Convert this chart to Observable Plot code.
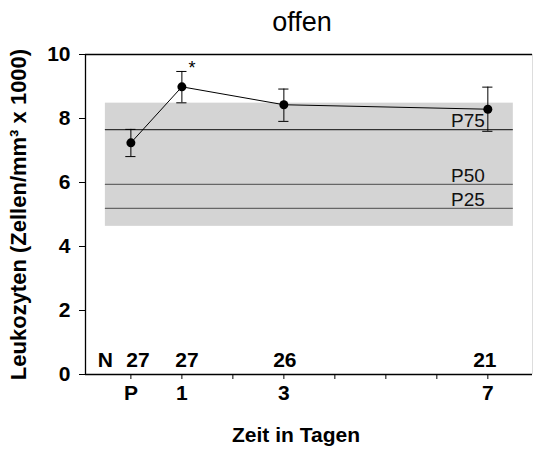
<!DOCTYPE html>
<html><head><meta charset="utf-8">
<script src="https://cdn.jsdelivr.net/npm/d3@7"></script>
<script src="https://cdn.jsdelivr.net/npm/@observablehq/plot@0.6"></script>
<style>body{margin:0;background:#fff}</style>
</head><body><div id="chart"></div>
<script>
const days = [0, 1, 3, 7];
const dayLabels = {0: "P", 1: "1", 3: "3", 7: "7"};
const means = [7.24, 8.99, 8.43, 8.29];
const upper = [7.66, 9.47, 8.92, 8.98];
const lower = [6.81, 8.49, 7.91, 7.60];
const counts = [27, 27, 26, 21];
const countShift = [7, 5, 1, -3];
const refNames = ["P75", "P50", "P25"];
const refValues = [7.65, 5.94, 5.19];
const refColors = ["#333", "#666", "#666"];
const bandX = [-0.5, 7.5];
const bandY = [4.63, 8.48];
const sigDay = [1];
const xDomain = [-0.89, 7.876];

const pts = days.map((d, i) => ({x: d, m: means[i], hi: upper[i], lo: lower[i], n: counts[i], s: countShift[i]}));
const refs = refNames.map((n, i) => ({n, v: refValues[i], c: refColors[i]}));
const font = "Liberation Sans, Arial, sans-serif";

const chart = Plot.plot({
  width: 533, height: 450,
  marginLeft: 85, marginRight: 1, marginTop: 54, marginBottom: 76,
  style: {fontFamily: font, background: "#fff"},
  x: {domain: xDomain},
  y: {domain: [0, 10]},
  marks: [
    Plot.rect([{x1: bandX[0], x2: bandX[1], y1: bandY[0], y2: bandY[1]}], {x1: "x1", x2: "x2", y1: "y1", y2: "y2", fill: "#d4d4d4"}),
    Plot.ruleY(refs, {y: "v", x1: bandX[0], x2: bandX[1], stroke: "c", strokeWidth: 1.3}),
    Plot.text(refs, {y: "v", x: 6.61, text: "n", lineAnchor: "middle", dy: -9, fontSize: 19, fill: "#111"}),
    Plot.ruleX(pts, {x: "x", y1: "lo", y2: "hi", stroke: "#000", strokeWidth: 1}),
    Plot.ruleY(pts, {y: "hi", x1: d => d.x - 0.1, x2: d => d.x + 0.1, stroke: "#000"}),
    Plot.ruleY(pts, {y: "lo", x1: d => d.x - 0.1, x2: d => d.x + 0.1, stroke: "#000"}),
    Plot.line(pts, {x: "x", y: "m", stroke: "#000", strokeWidth: 1}),
    Plot.dot(pts, {x: "x", y: "m", r: 4.5, fill: "#000"}),
    Plot.text(sigDay, {x: d => d, y: 9.5, text: () => "*", dx: 10, dy: -2, lineAnchor: "middle", fontSize: 18}),
    Plot.ruleX([xDomain[1]], {stroke: "#ddd"}),
    Plot.ruleY([10], {stroke: "#000", strokeWidth: 1.3}),
    Plot.ruleY([0], {stroke: "#000", strokeWidth: 1.3}),
    Plot.ruleX([xDomain[0]], {stroke: "#000", strokeWidth: 1.3}),
    Plot.axisY({ticks: [0, 2, 4, 6, 8, 10], tickSize: 6, tickPadding: 9, fontSize: 21, fontWeight: "bold", label: null, color: "#000"}),
    Plot.axisX({ticks: d3.range(0, 8), tickSize: 5, tickPadding: 6, tickFormat: d => dayLabels[d] ?? "", fontSize: 21, fontWeight: "bold", label: null}),
    Plot.text(["N"], {x: -0.5, y: 0.46, text: d => d, fontSize: 21, fontWeight: "bold"}),
    ...pts.map(p => Plot.text([p], {x: "x", y: 0.46, text: d => String(d.n), dx: p.s, fontSize: 21, fontWeight: "bold"})),
    Plot.text(["Leukozyten (Zellen/mm³ x 1000)"], {frameAnchor: "left", textAnchor: "middle", lineAnchor: "middle", rotate: -90, dx: -67, text: d => d, fontSize: 22, fontWeight: "bold"}),
    Plot.text(["Zeit in Tagen"], {frameAnchor: "bottom", textAnchor: "middle", lineAnchor: "middle", dx: -13, dy: 61, text: d => d, fontSize: 21, fontWeight: "bold"}),
    Plot.text(["offen"], {frameAnchor: "top", textAnchor: "middle", lineAnchor: "middle", dx: -7, dy: -32, text: d => d, fontSize: 27})
  ]
});
document.getElementById("chart").appendChild(chart);
</script>
</body></html>
